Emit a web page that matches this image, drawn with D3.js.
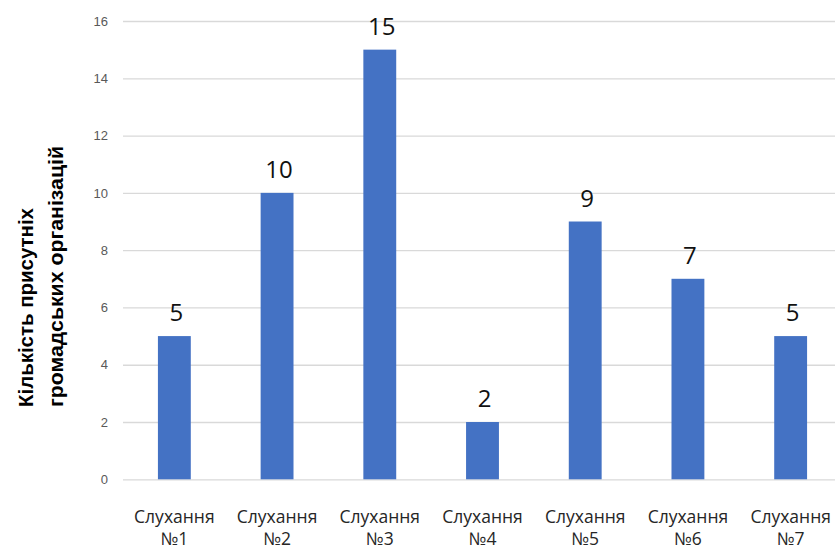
<!DOCTYPE html>
<html>
<head>
<meta charset="utf-8">
<script src="https://cdn.jsdelivr.net/npm/d3@7"></script>
<style>
    body { margin: 0; background: #fff; }
    svg { display: block; }
</style>
</head>
<body>
<div class="curr-graff"></div>
<script>
// Chart data
const categories = ["Слухання №1", "Слухання №2", "Слухання №3", "Слухання №4", "Слухання №5", "Слухання №6", "Слухання №7"];
const values = [5, 10, 15, 2, 9, 7, 5];
const yTicks = [0, 2, 4, 6, 8, 10, 12, 14, 16];
const titleLines = ["Кількість присутніх", "громадських організацій"];

let width = 835;
let height = 550;

let svg = d3.select(".curr-graff")
    .append("svg")
    .attr("width", width)
    .attr("height", height);

// scaling functions
let scaleX = d3.scaleBand()
    .domain(categories)
    .range([123, 842])
    .padding(0);

let scaleY = d3.scaleLinear()
    .domain([0, 16])
    .range([479.3, 21]);

let barW = scaleX.bandwidth() * 0.32;

// Y axis with gridlines
let axisY = d3.axisLeft(scaleY)
    .tickValues(yTicks)
    .tickSize(-(842 - 123))
    .tickPadding(15);

let gY = svg.append("g")
    .attr("transform", "translate(123,0)")
    .call(axisY);

gY.select(".domain").remove();
gY.selectAll(".tick line")
    .attr("stroke", "#d9d9d9")
    .attr("stroke-width", 1.3);
gY.selectAll(".tick text")
    .attr("fill", "#595959")
    .style("font-family", "Liberation Sans, Arial, sans-serif")
    .style("font-size", "13px");

// Bars
svg.append("g")
    .selectAll("rect")
    .data(values)
    .enter().append("rect")
    .attr("x", (d, i) => scaleX(categories[i]) + (scaleX.bandwidth() - barW) / 2)
    .attr("width", barW)
    .attr("y", d => scaleY(d))
    .attr("height", d => scaleY(0) - scaleY(d))
    .attr("fill", "#4472C4");

// Value labels above bars
svg.append("g")
    .selectAll("text")
    .data(values)
    .enter().append("text")
    .attr("x", (d, i) => scaleX(categories[i]) + scaleX.bandwidth() / 2 + 2)
    .attr("y", d => scaleY(d) - 15)
    .attr("text-anchor", "middle")
    .attr("fill", "#111")
    .style("font-family", "Open Sans, Liberation Sans, sans-serif")
    .style("font-size", "24px")
    .text(d => d);

// Category labels, two lines each
let catG = svg.append("g")
    .selectAll("text")
    .data(categories)
    .enter().append("text")
    .attr("text-anchor", "middle")
    .attr("fill", "#262626")
    .style("font-family", "Open Sans, Liberation Sans, sans-serif")
    .style("font-size", "17.5px");

catG.each(function(d) {
    let parts = d.split(" ");
    let cx = scaleX(d) + scaleX.bandwidth() / 2;
    let t = d3.select(this);
    t.append("tspan").attr("x", cx).attr("y", 523).text(parts[0]);
    t.append("tspan").attr("x", cx).attr("y", 545).text(parts[1]);
});

// Y axis title
let title = svg.append("text")
    .attr("transform", "translate(0,407) rotate(-90)")
    .attr("text-anchor", "start")
    .attr("fill", "#000")
    .style("font-family", "Liberation Sans, Arial, sans-serif")
    .style("font-weight", "bold")
    .style("font-size", "21px");

title.append("tspan").attr("x", 0).attr("y", 33).attr("textLength", 199).attr("lengthAdjust", "spacingAndGlyphs").text(titleLines[0]);
title.append("tspan").attr("x", 0).attr("y", 63).attr("textLength", 261).attr("lengthAdjust", "spacingAndGlyphs").text(titleLines[1]);
</script>
</body>
</html>
